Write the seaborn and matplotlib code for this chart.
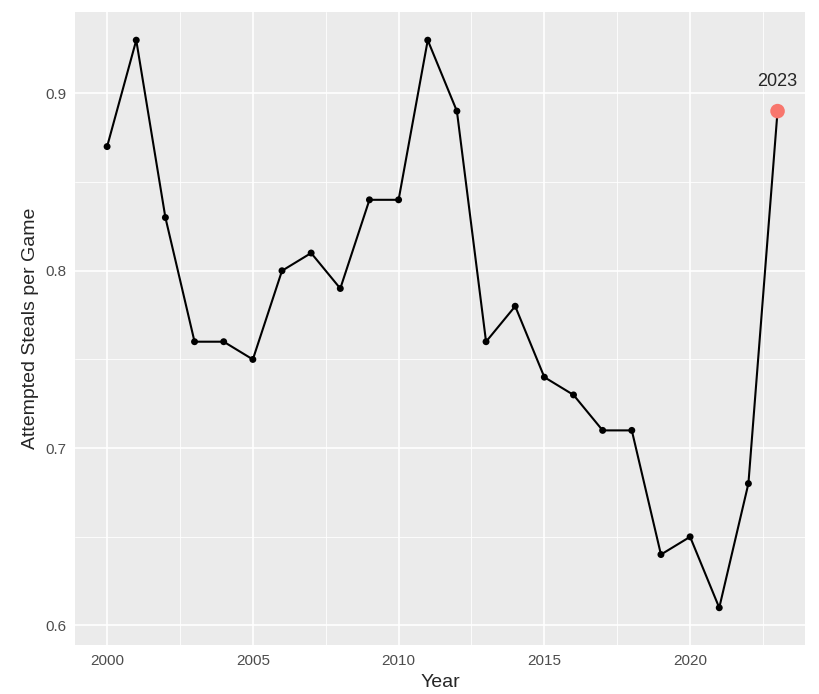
import matplotlib
matplotlib.use('Agg')
import matplotlib.pyplot as plt
import seaborn as sns
import pandas as pd
import numpy as np

years = list(range(2000, 2024))
steals = [0.87, 0.93, 0.83, 0.76, 0.76, 0.75, 0.80, 0.81, 0.79, 0.84, 0.84, 0.93,
          0.89, 0.76, 0.78, 0.74, 0.73, 0.71, 0.71, 0.64, 0.65, 0.61, 0.68, 0.89]
df = pd.DataFrame({'Year': years, 'Steals': steals})
last = df[df['Year'] == 2023]

sns.set_theme(style='darkgrid', rc={'axes.facecolor': '#EBEBEB', 'grid.color': 'white'})
plt.rcParams['font.family'] = ['Liberation Sans', 'DejaVu Sans']

fig = plt.figure(figsize=(8.2, 6.94), dpi=100)
ax = fig.add_axes([0.0915, 0.0706, 0.8905, 0.9124])

sns.lineplot(data=df, x='Year', y='Steals', color='black', linewidth=1.5, ax=ax)
sns.scatterplot(data=df, x='Year', y='Steals', color='black', s=25, edgecolor='none', ax=ax)
sns.scatterplot(data=last, x='Year', y='Steals', color='#F8766D', s=110, edgecolor='none', ax=ax, zorder=5)
ax.text(2023, 0.89 + 0.012, '2023', ha='center', va='bottom', fontsize=13)

ax.set_xlim(1998.9, 2023.95)
ax.set_ylim(0.589, 0.946)
ax.set_xticks([2000, 2005, 2010, 2015, 2020])
ax.set_yticks([0.6, 0.7, 0.8, 0.9])
ax.set_yticklabels(['0.6', '0.7', '0.8', '0.9'])
ax.set_xticks(np.arange(2002.5, 2023, 5), minor=True)
ax.set_yticks([0.65, 0.75, 0.85], minor=True)
ax.grid(which='major', color='white', linewidth=1.2)
ax.grid(which='minor', color='white', linewidth=0.6)
ax.tick_params(which='both', length=3, color='#333333', labelsize=11, labelcolor='#4D4D4D')
ax.tick_params(which='minor', length=0)
for s in ax.spines.values():
    s.set_visible(False)
ax.set_xlabel('Year', fontsize=14)
ax.set_ylabel('Attempted Steals per Game', fontsize=14)

fig.savefig('out.png', dpi=100)
